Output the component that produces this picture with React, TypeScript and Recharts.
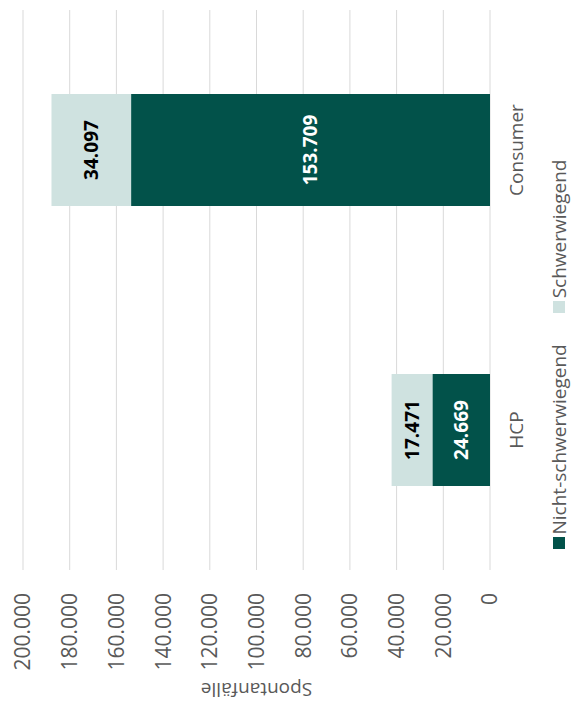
import { Bar, BarChart, CartesianGrid, LabelList, XAxis, YAxis } from 'recharts';

const categories = ['HCP', 'Consumer'];
const nichtSchwerwiegend = [24669, 153709];
const schwerwiegend = [17471, 34097];
const seriesNames = ['Nicht-schwerwiegend', 'Schwerwiegend'];
const seriesColors = ['#02524A', '#CFE2E0'];
const valueTicks = [0, 20000, 40000, 60000, 80000, 100000, 120000, 140000, 160000, 180000, 200000];

const data = categories.map((name, i) => ({
  name,
  nicht: nichtSchwerwiegend[i],
  schwer: schwerwiegend[i],
}));

const FONT = '"Open Sans", sans-serif';
const W = 709;
const H = 572;
const LEGEND_H = 26;

// german thousands separator
function formatDe(v: number) {
  return String(Math.round(v)).replace(/\B(?=(\d{3})+(?!\d))/g, '.');
}

// the Legend of recharts measures itself with getBoundingClientRect, which breaks
// under the rotation, so the legend is a plain html row below the svg
function LegendRow() {
  return (
    <div
      style={{
        position: 'absolute',
        left: 0,
        bottom: 0,
        width: W,
        height: LEGEND_H,
        display: 'flex',
        justifyContent: 'center',
        alignItems: 'center',
        gap: 31,
      }}
    >
      {seriesNames.map((name, i) => (
        <div key={name} style={{ display: 'flex', alignItems: 'center', gap: 3 }}>
          <span style={{ width: 12, height: 12, background: seriesColors[i], display: 'inline-block' }} />
          <span style={{ fontSize: 19, color: '#595959', fontFamily: FONT, lineHeight: `${LEGEND_H}px` }}>
            {name}
          </span>
        </div>
      ))}
    </div>
  );
}

function AxisTitle({ viewBox }: any) {
  const x = viewBox.x + 19;
  const y = viewBox.y + viewBox.height / 2;
  return (
    <text
      x={x}
      y={y}
      transform={`rotate(-90 ${x} ${y})`}
      textAnchor="middle"
      dominantBaseline="central"
      fill="#595959"
      fontSize={19}
      fontFamily={FONT}
    >
      Spontanfälle
    </text>
  );
}

export default function App() {
  return (
    <div style={{ position: 'absolute', left: 0, top: 0, width: H, height: W, overflow: 'hidden', background: '#fff' }}>
      <div
        style={{
          position: 'relative',
          width: W,
          height: H,
          transformOrigin: 'top left',
          transform: `translateY(${W}px) rotate(-90deg)`,
        }}
      >
        <BarChart
          width={W}
          height={H}
          data={data}
          margin={{ top: 23, right: 10, left: 0, bottom: LEGEND_H }}
          barCategoryGap="30%"
        >
          <CartesianGrid vertical={false} stroke="#D9D9D9" strokeWidth={1} />
          <XAxis
            dataKey="name"
            height={56}
            axisLine={false}
            tickLine={false}
            tickSize={0}
            tickMargin={20}
            tick={{ fill: '#595959', fontSize: 19, fontFamily: FONT }}
          />
          <YAxis
            width={139}
            domain={[0, 200000]}
            ticks={valueTicks}
            interval={0}
            axisLine={false}
            tickLine={false}
            tickSize={0}
            tickMargin={23}
            tickFormatter={formatDe}
            tick={{ fill: '#595959', fontSize: 21, fontFamily: FONT }}
            label={AxisTitle}
          />
          <Bar dataKey="nicht" name={seriesNames[0]} stackId="a" fill={seriesColors[0]} isAnimationActive={false}>
            <LabelList
              dataKey="nicht"
              position="center"
              formatter={(v: any) => formatDe(Number(v))}
              fill="#FFFFFF"
              fontSize={19}
              fontWeight="bold"
              fontFamily={FONT}
            />
          </Bar>
          <Bar dataKey="schwer" name={seriesNames[1]} stackId="a" fill={seriesColors[1]} isAnimationActive={false}>
            <LabelList
              dataKey="schwer"
              position="center"
              formatter={(v: any) => formatDe(Number(v))}
              fill="#000000"
              fontSize={19}
              fontWeight="bold"
              fontFamily={FONT}
            />
          </Bar>
        </BarChart>
        <LegendRow />
      </div>
    </div>
  );
}
